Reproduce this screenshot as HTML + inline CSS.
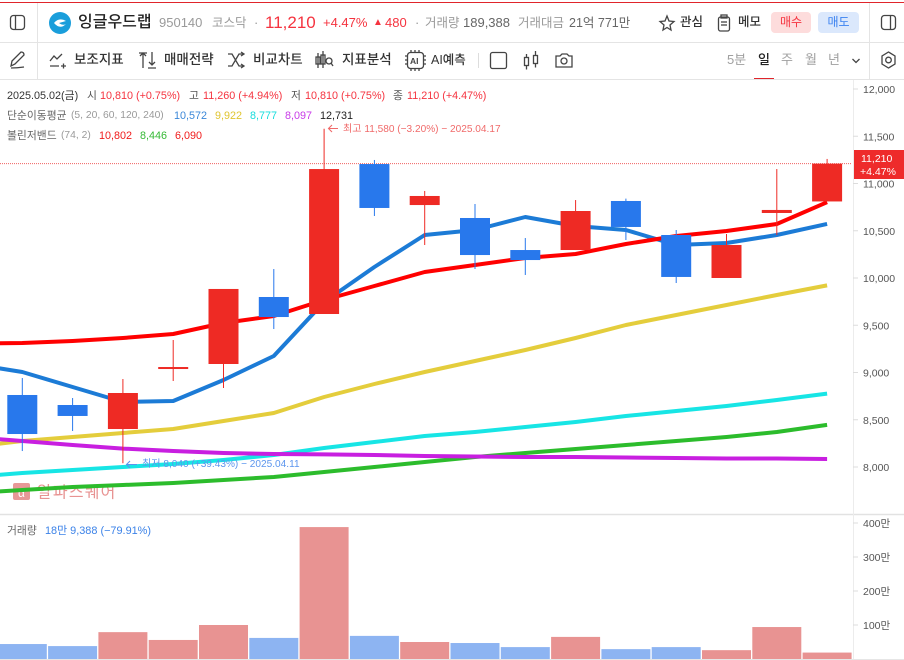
<!DOCTYPE html>
<html lang="ko">
<head>
<meta charset="utf-8">
<title>잉글우드랩 차트</title>
<style>
html,body{margin:0;padding:0;background:#fff}
body{width:904px;height:660px;overflow:hidden;position:relative;font-family:"Liberation Sans","Noto Sans CJK KR",sans-serif;font-size:11px;color:#333}
.t{position:absolute;white-space:nowrap;line-height:16px;height:16px}
.b{position:absolute;background:#e4e4e4}
svg{position:absolute;left:0;top:0}
.tb{font-size:13.500px;color:#333;font-weight:500;top:52px}
.ic{fill:none;stroke:#444;stroke-width:1.3}
.r{color:#f5333f}
.g{color:#9a9a9a}
.tf{font-size:13px;top:52px;color:#a0a0a0}
.l1{font-size:10.800px;top:88px}
.l2{font-size:10.800px;top:108px}
.l3{font-size:10.800px;top:128px}
</style>
</head>
<body>
<div class="b" style="left:0;top:2px;width:904px;height:1px;background:#e0252b"></div>
<div class="b" style="left:0;top:42px;width:904px;height:1px"></div>
<div class="b" style="left:0;top:79px;width:904px;height:1px"></div>
<div class="b" style="left:37px;top:3px;width:1px;height:76px"></div>
<div class="b" style="left:869px;top:3px;width:1px;height:76px"></div>

<svg id="chart" width="904" height="660" viewBox="0 0 904 660"></svg>

<svg width="904" height="80" viewBox="0 0 904 80" style="pointer-events:none">
  <g><rect class="ic" x="10.5" y="15.5" width="14" height="14" rx="3"/><line class="ic" x1="15.5" y1="15.5" x2="15.5" y2="29.5"/></g>
  <g><circle cx="60" cy="23" r="11" fill="#1a9edb"/><path d="M54 23 q5 -6 12 -2 l-7 2 q4 3 7 1 q-6 6 -12 -1z" fill="#fff"/></g>
  <g><path class="ic" d="M667 16l2 5 5 .5-4 3.500 1 5-4-2.500-4 2.500 1-5-4-3.500 5-.5z"/></g>
  <g><rect class="ic" x="718.500" y="17" width="11" height="14" rx="2"/><rect class="ic" x="721" y="15" width="6" height="3"/><line class="ic" x1="721" y1="22" x2="727" y2="22"/><line class="ic" x1="721" y1="25" x2="727" y2="25"/></g>
  <g><rect class="ic" x="881.500" y="15.500" width="14" height="14" rx="3"/><line class="ic" x1="890.500" y1="15.500" x2="890.500" y2="29.500"/></g>
  <g><path class="ic" d="M11 66 l1-5 9-9 q3 0 3 3 l-9 9z M11 68 q6 0 13 -1"/></g>
  <g><path class="ic" d="M50 61 l4-5 3 3 5-5 M50 66 h9 M61 66 h5 M63.500 63.500 v5"/></g>
  <g><path class="ic" d="M143 68 v-15 M140 56 l3-3 3 3 M139 53 h8 M152 52 v13 M149 62 l3 3 3-3 M148 68 h8"/></g>
  <g><path class="ic" d="M228 54 h4 l7 12 h4 M228 66 h4 l7-12 h4 M241 52 l3 2-3 2 M241 64 l3 2-3 2"/></g>
  <g><path class="ic" d="M318 53 v15 M323 51 v17"/><rect class="ic" x="316" y="57" width="4" height="7"/><rect class="ic" x="321" y="55" width="4" height="9"/><circle class="ic" cx="329" cy="61" r="3"/><line class="ic" x1="331" y1="63" x2="333" y2="66"/></g>
  <g><rect class="ic" x="407.500" y="52.500" width="16" height="16" rx="3"/><path class="ic" d="M405 56h2M405 60h2M405 64h2M424 56h2M424 60h2M424 64h2M411 50v2M415 50v2M419 50v2M411 69v2M415 69v2M419 69v2"/><text x="410" y="64" font-size="8.500" font-weight="700" fill="#444">AI</text></g>
  <line x1="478.500" y1="53" x2="478.500" y2="68" stroke="#ddd"/>
  <rect class="ic" x="490.500" y="52.500" width="16" height="16" rx="2"/>
  <g><rect class="ic" x="524.500" y="57.500" width="4" height="8"/><rect class="ic" x="533.500" y="55.500" width="4" height="8"/><path class="ic" d="M526.500 54v3.500M526.500 65.500v4M535.500 51v4.500M535.500 63.500v4"/></g>
  <g><path class="ic" d="M556 56 h4 l2-2 h5 l2 2 h3 v11 h-16z"/><circle class="ic" cx="564" cy="61" r="3"/></g>
  <path class="ic" d="M852.500 59l3.500 3.500 3.500-3.500"/>
  <g><path class="ic" d="M888.500 52l6.500 4v8l-6.500 4-6.500-4v-8z"/><circle class="ic" cx="888.500" cy="60" r="2.800"/></g>
</svg>

<span class="t" style="left:78px;top:14px;font-size:16px;font-weight:500;color:#222;height:18px;line-height:18px">잉글우드랩</span>
<span class="t g" style="left:159px;top:15px;font-size:13px">950140</span>
<span class="t g" style="left:212px;top:15px;font-size:12.5px">코스닥</span>
<span class="t g" style="left:254px;top:15px;font-size:13px">·</span>
<span class="t r" style="left:265px;top:13px;font-size:17px;height:20px;line-height:20px">11,210</span>
<span class="t r" style="left:323px;top:15px;font-size:13px">+4.47%</span>
<span class="t r" style="left:373px;top:15px;font-size:10px">▲</span>
<span class="t r" style="left:385px;top:15px;font-size:13px">480</span>
<span class="t g" style="left:415px;top:15px;font-size:13px">·</span>
<span class="t g" style="left:425px;top:15px;font-size:12.500px">거래량</span>
<span class="t" style="left:463px;top:15px;font-size:13px;color:#666">189,388</span>
<span class="t g" style="left:518px;top:15px;font-size:12.500px">거래대금</span>
<span class="t" style="left:569px;top:15px;font-size:12.500px;color:#666">21억 771만</span>
<span class="t" style="left:680px;top:14px;font-size:12.500px;font-weight:500;color:#333">관심</span>
<span class="t" style="left:738px;top:14px;font-size:12.500px;font-weight:500;color:#333">메모</span>
<span class="t" style="left:771px;top:12px;width:40px;height:21px;line-height:21px;background:#fddcdc;border-radius:4px;text-align:center;color:#f5333f;font-size:12px">매수</span>
<span class="t" style="left:818px;top:12px;width:41px;height:21px;line-height:21px;background:#dbe8fc;border-radius:4px;text-align:center;color:#3b82f0;font-size:12px">매도</span>

<span class="t tb" style="left:74px">보조지표</span>
<span class="t tb" style="left:164px">매매전략</span>
<span class="t tb" style="left:253px">비교차트</span>
<span class="t tb" style="left:342px">지표분석</span>
<span class="t tb" style="left:431px;font-size:12.500px">AI예측</span>
<span class="t tf" style="left:727px">5분</span>
<span class="t tf" style="left:758px;color:#222;font-weight:500">일</span>
<span class="t tf" style="left:781px">주</span>
<span class="t tf" style="left:805px">월</span>
<span class="t tf" style="left:828px">년</span>
<div class="b" style="left:754px;top:78px;width:20px;height:1px;background:#e0252b"></div>

<span class="t l1" style="left:7px;color:#333">2025.05.02(금)</span>
<span class="t l1" style="left:87px;color:#555">시</span>
<span class="t l1 r" style="left:100px">10,810 (+0.75%)</span>
<span class="t l1" style="left:189px;color:#555">고</span>
<span class="t l1 r" style="left:203px">11,260 (+4.94%)</span>
<span class="t l1" style="left:291px;color:#555">저</span>
<span class="t l1 r" style="left:305px">10,810 (+0.75%)</span>
<span class="t l1" style="left:393px;color:#555">종</span>
<span class="t l1 r" style="left:407px">11,210 (+4.47%)</span>

<span class="t l2" style="left:7px;color:#666">단순이동평균</span>
<span class="t l2 g" style="left:71px;font-size:10.300px">(5, 20, 60, 120, 240)</span>
<span class="t l2" style="left:174px;color:#3a87d8">10,572</span>
<span class="t l2" style="left:215px;color:#e0c530">9,922</span>
<span class="t l2" style="left:250px;color:#16dcdc">8,777</span>
<span class="t l2" style="left:285px;color:#c83be8">8,097</span>
<span class="t l2" style="left:320px;color:#222">12,731</span>

<span class="t l3" style="left:7px;color:#666">볼린저밴드</span>
<span class="t l3 g" style="left:61px;font-size:10.300px">(74, 2)</span>
<span class="t l3" style="left:99px;color:#f01c1c">10,802</span>
<span class="t l3" style="left:140px;color:#35b935">8,446</span>
<span class="t l3" style="left:175px;color:#f01c1c">6,090</span>

<span class="t" style="left:7px;top:523px;font-size:10.800px;color:#666">거래량</span>
<span class="t" style="left:45px;top:523px;font-size:10.900px;color:#3b82e8">18만 9,388 (−79.91%)</span>

<script>
var dates = ['04.01','04.02','04.03','04.04','04.07','04.08','04.09','04.10','04.11','04.14','04.15','04.16','04.17','04.18','04.21','04.22','05.02'];
var opens = [8762,8656,8402,9048,9090,9799,9619,11206,10772,10635,10296,10296,10815,10455,10000,10688,10810];
var highs = [8942,8730,8931,9344,9884,10095,11580,11249,10921,10783,10423,10825,10840,10508,10466,11153,11260];
var lows = [8169,8381,8040,8910,8836,9460,9619,10656,10349,10095,10032,10296,10402,9947,10000,10455,10810];
var closes = [8349,8540,8783,9058,9884,9587,11153,10741,10868,10243,10190,10709,10540,10011,10349,10720,11210];
var volumes = [44,38,79,56,100,62,388,68,50,47,35,65,29,35,26,94,18.9];

var ma5 = [9090,9005,8847,8688,8698,8921,9175,9746,10116,10455,10508,10646,10550,10508,10349,10370,10455,10572];
var ma20 = [8212,8275,8317,8360,8402,8487,8571,8741,8878,9005,9122,9238,9365,9503,9608,9714,9820,9922];
var ma60 = [7894,7937,7968,8000,8032,8074,8127,8201,8265,8328,8370,8423,8476,8540,8593,8646,8709,8777];
var ma120 = [8317,8275,8233,8195,8169,8148,8138,8133,8127,8116,8111,8106,8106,8101,8095,8090,8090,8085];
var bollUpper = [9307,9312,9333,9365,9407,9524,9598,9767,9915,10063,10138,10212,10254,10360,10444,10497,10571,10802];
var bollMid = [7725,7757,7788,7810,7831,7862,7894,7947,8000,8053,8106,8148,8190,8233,8275,8317,8370,8446];

var priceTicks = [12000,11500,11000,10500,10000,9500,9000,8500,8000];
var volumeTicks = [100,200,300,400];
var lastClose = 11210;
var lastChange = '+4.47%';

var NS = 'http://www.w3.org/2000/svg';
var svg = document.getElementById('chart');

function xAt(i){ return 22.3 + 50.3 * i; }
function yPrice(v){ return 89 + (12000 - v) * 0.0945; }
function yVol(v){ return 659 - v * 0.34; }
function fmt(n){ return String(n).replace(/\B(?=(\d{3})+$)/g, ','); }
function mk(tag, attrs, text){
  var el = document.createElementNS(NS, tag);
  for (var k in attrs) el.setAttribute(k, attrs[k]);
  if (text !== undefined) el.textContent = text;
  svg.appendChild(el);
  return el;
}
var el;

el = mk('defs', {});
el.innerHTML = '<clipPath id="plot"><rect x="0" y="80" width="852" height="434"/></clipPath>';



el = mk('rect', {x:13,y:483,width:17,height:17,rx:2,fill:'#e58d8c',opacity:0.9});


el = mk('text', {x:21.500,y:497,'font-size':12,'text-anchor':'middle',fill:'#fff'}, 'α');


el = mk('text', {x:37,y:497.500,'font-size':16,fill:'#e89392','letter-spacing':1.200}, '알파스퀘어');



el = mk('line', {x1:0,y1:514.500,x2:904,y2:514.500,stroke:'#e2e2e2','stroke-width':1.500});


el = mk('line', {x1:853.500,y1:80,x2:853.500,y2:660,stroke:'#ececec'});


el = mk('line', {x1:0,y1:659.500,x2:904,y2:659.500,stroke:'#e6e6e6'});



priceTicks.forEach(function(v){
  var y = yPrice(v);
  var tick = mk('line', {x1:853,y1:y,x2:858,y2:y,stroke:'#dcdcdc'});
  
  
  var lab = mk('text', {x:863,y:y+4,'font-size':10.500,fill:'#555'}, fmt(v));
  
  
});
volumeTicks.forEach(function(v){
  var y = yVol(v);
  var tick = mk('line', {x1:853,y1:y,x2:858,y2:y,stroke:'#dcdcdc'});
  
  
  var lab = mk('text', {x:863,y:y+4,'font-size':10.500,fill:'#555'}, v + '만');
  
  
});

function drawLine(values, color, name){
  var pts = values.map(function(v, i){ return xAt(i - 1).toFixed(1) + ',' + yPrice(v).toFixed(1); }).join(' ');
  var line = mk('polyline', {points:pts,fill:'none',stroke:color,'stroke-width':4,'stroke-linejoin':'round','clip-path':'url(#plot)'});
  
  
}
drawLine(ma20, '#e4cd3c', 'ma20-line');
drawLine(ma60, '#17e5e5', 'ma60-line');
drawLine(bollMid, '#2cbc2c', 'bollinger-mid-line');
drawLine(ma120, '#c81fe0', 'ma120-line');
drawLine(ma5, '#1c7bd6', 'ma5-line');
drawLine(bollUpper, '#ff0000', 'bollinger-upper-line');

el = mk('line', {x1:0,y1:yPrice(lastClose),x2:852,y2:yPrice(lastClose),stroke:'#ee3a3a','stroke-dasharray':'1 1',opacity:0.8});



dates.forEach(function(d, i){
  var up = closes[i] >= opens[i];
  var color = up ? '#ee2a24' : '#2878ec';
  var x = xAt(i);
  var wick = mk('line', {x1:x,y1:yPrice(highs[i]),x2:x,y2:yPrice(lows[i]),stroke:color,'stroke-width':1});
  
  
  var top = yPrice(Math.max(opens[i], closes[i]));
  var bot = yPrice(Math.min(opens[i], closes[i]));
  var body = mk('rect', {x:x-15,y:top,width:30,height:Math.max(bot-top,2),fill:color});
  
  
});

volumes.forEach(function(v, i){
  var up = closes[i] >= opens[i];
  var y = yVol(v);
  var bar = mk('rect', {x:xAt(i)-24.500,y:y,width:49,height:659-y,fill:up?'#e89392':'#8db4f2'});
  
  
});

el = mk('path', {d:'M338 128.500 H329 M332 125 l-3.500 3.500 3.500 3.500',fill:'none',stroke:'#f06a6a','stroke-width':1.100});


el = mk('text', {x:343,y:132,'font-size':10.100,fill:'#f06a6a'}, '최고 11,580 (−3.20%) − 2025.04.17');


el = mk('path', {d:'M137 464.500 H127 M130 461 l-3.500 3.500 3.500 3.500',fill:'none',stroke:'#5b95ee','stroke-width':1.100});


el = mk('text', {x:142,y:467,'font-size':10.100,fill:'#5b95ee'}, '최저 8,040 (+39.43%) − 2025.04.11');



el = mk('rect', {x:854,y:150,width:50,height:29,fill:'#ee2b2b'});


el = mk('text', {x:861,y:162,'font-size':10.500,fill:'#fff'}, fmt(lastClose));


el = mk('text', {x:860,y:175,'font-size':10.500,fill:'#fff'}, lastChange);


</script>
</body>
</html>
